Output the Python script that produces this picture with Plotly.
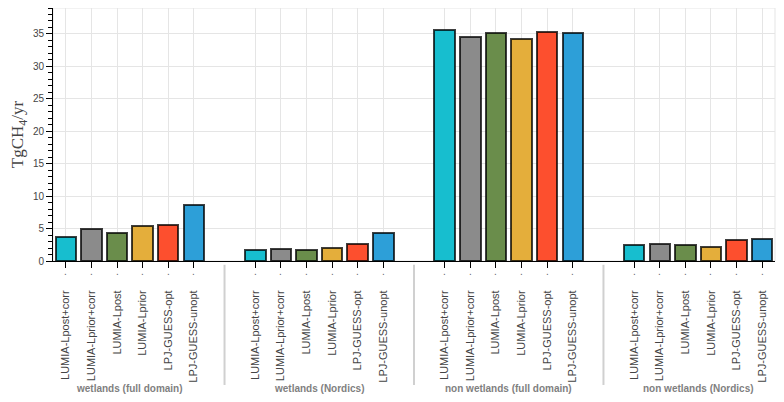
import plotly.graph_objects as go

groups = ["wetlands (full domain)", "wetlands (Nordics)",
          "non wetlands (full domain)", "non wetlands (Nordics)"]
models = ["LUMIA-Lpost+corr", "LUMIA-Lprior+corr", "LUMIA-Lpost",
          "LUMIA-Lprior", "LPJ-GUESS-opt", "LPJ-GUESS-unopt"]
colors = ["#17becf", "#8b8b8b", "#6a8d4b", "#e4ae3b", "#fd4f2e", "#2d9fd8"]

values = {
    "LUMIA-Lpost+corr":  [3.75, 1.70, 35.6, 2.47],
    "LUMIA-Lprior+corr": [4.87, 1.85, 34.6, 2.62],
    "LUMIA-Lpost":       [4.26, 1.64, 35.15, 2.51],
    "LUMIA-Lprior":      [5.34, 1.95, 34.2, 2.20],
    "LPJ-GUESS-opt":     [5.49, 2.56, 35.25, 3.28],
    "LPJ-GUESS-unopt":   [8.63, 4.26, 35.2, 3.33],
}

y_ticks = [0, 5, 10, 15, 20, 25, 30, 35]

GROUP_PAD = 1.4
n = len(models)

def xpos(g, i):
    return g * (n + GROUP_PAD) + i + 0.5

x_end = len(groups) * n + (len(groups) - 1) * GROUP_PAD

fig = go.Figure()
tickvals, ticktext = [], []
for i, m in enumerate(models):
    xs = [xpos(g, i) for g in range(len(groups))]
    fig.add_trace(go.Bar(
        x=xs, y=values[m], width=0.8, name=m,
        marker=dict(color=colors[i], line=dict(color="rgba(0,0,0,0.75)", width=2)),
        showlegend=False,
    ))
for g in range(len(groups)):
    for i, m in enumerate(models):
        tickvals.append(xpos(g, i))
        ticktext.append(m)

annotations = []
shapes = []
shapes.append(dict(type="rect", xref="paper", yref="paper", x0=0, x1=1, y0=0, y1=1,
                   line=dict(color="#e5e5e5", width=1), layer="below"))
for g, name in enumerate(groups):
    cx = g * (n + GROUP_PAD) + n / 2
    annotations.append(dict(x=cx, xref="x", y=0, yref="paper", yshift=-127,
                            text="<b>" + name + "</b>", showarrow=False,
                            font=dict(family="Liberation Sans, Arial", size=10, color="#7f7f7f"),
                            xanchor="center", yanchor="middle"))
    for i in range(n):
        annotations.append(dict(x=xpos(g, i), xref="x", y=0, yref="paper", yshift=-10,
                                text=".", showarrow=False,
                                font=dict(family="Liberation Sans, Arial", size=10, color="#666666"),
                                xanchor="center", yanchor="middle"))
    if g > 0:
        sx = g * (n + GROUP_PAD) - GROUP_PAD / 2
        shapes.append(dict(type="line", xref="x", yref="paper", x0=sx, x1=sx,
                           y0=-0.015, y1=-0.49, line=dict(color="#d0d0d0", width=2)))

fig.update_layout(
    width=776, height=394,
    margin=dict(l=45, r=9, t=0, b=141, autoexpand=False),
    paper_bgcolor="white", plot_bgcolor="white",
    bargap=0,
    annotations=annotations, shapes=shapes,
    font=dict(family="Liberation Sans, Arial", size=10, color="#444444"),
)
fig.update_xaxes(
    range=[0, x_end], tickmode="array", tickvals=tickvals, ticktext=ticktext,
    tickangle=-90, ticks="outside", ticklen=6, tickwidth=1, tickcolor="black",
    showline=True, linecolor="black", linewidth=1,
    showgrid=True, gridcolor="#e5e5e5", gridwidth=1, zeroline=False,
    ticklabelstandoff=18, automargin=False,
    tickfont=dict(family="Liberation Sans, Arial", size=11, color="#444444"),
)
fig.update_yaxes(
    range=[0, 39.0], tickmode="array", tickvals=y_ticks,
    ticks="outside", ticklen=6, tickwidth=1, tickcolor="black",
    showline=True, linecolor="black", linewidth=1,
    showgrid=True, gridcolor="#e5e5e5", gridwidth=1, zeroline=False,
    automargin=False,
    minor=dict(dtick=1, ticks="outside", ticklen=4, tickcolor="black", showgrid=False),
    tickfont=dict(family="Liberation Sans, Arial", size=10, color="#444444"),
    title=dict(text="TgCH<sub>4</sub>/yr", standoff=6,
               font=dict(family="Liberation Serif, DejaVu Serif", size=17, color="#444444")),
)

fig.write_html("out.html")
